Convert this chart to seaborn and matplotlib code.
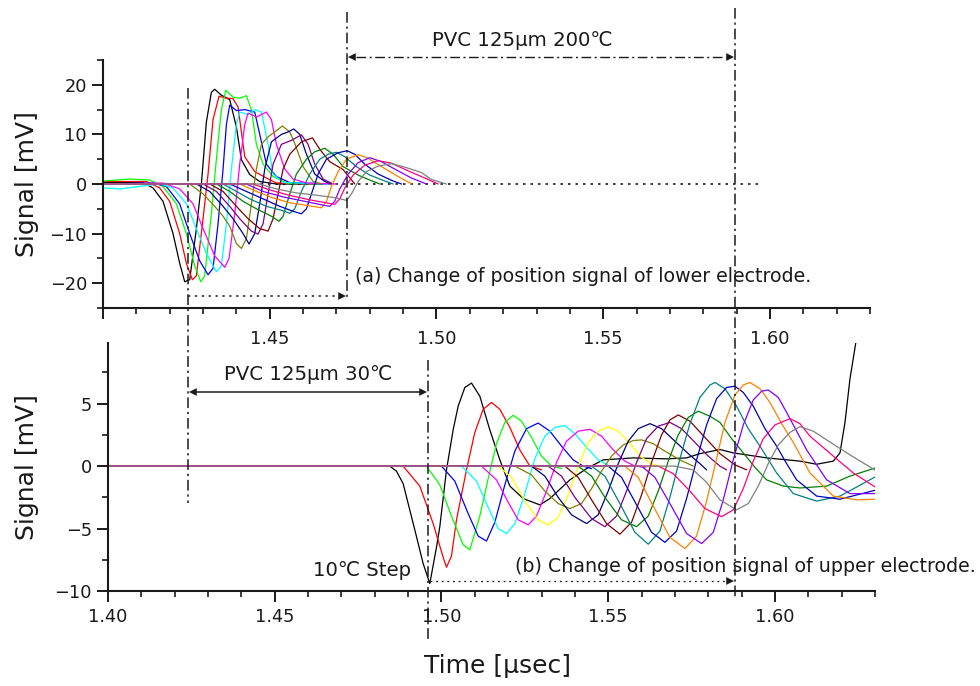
import numpy as np
import pandas as pd
import matplotlib
matplotlib.use("Agg")
import matplotlib.pyplot as plt
import seaborn as sns
from matplotlib.lines import Line2D
from matplotlib.patches import FancyArrowPatch
from matplotlib.ticker import MultipleLocator

# --- Data: (time [usec], signal [mV]) ---
# (a) lower electrode, PVC 125um 200C
top_black = [(1.400, 0.3), (1.412, 0.3), (1.415, -0.8), (1.418, -3.5), (1.421, -10), (1.423, -16), (1.4245, -19.7),
             (1.426, -19.3), (1.428, -9), (1.4295, 0), (1.431, 12.5), (1.4325, 18.5), (1.4335, 19.1), (1.4355, 17.9),
             (1.438, 17.0), (1.440, 11.5), (1.4415, 4.9), (1.444, 1.9), (1.447, 0.5), (1.452, 0), (1.465, 0)]
top_red = [(1.400, 0.5), (1.413, 0.5), (1.417, -0.8), (1.420, -3.5), (1.423, -10), (1.425, -16), (1.4268, -19.3),
           (1.428, -18.5), (1.430, -7), (1.4315, 2), (1.433, 13), (1.4348, 17.7), (1.437, 17.3), (1.439, 17.2),
           (1.4405, 15.5), (1.4425, 5.5), (1.4455, 2.5), (1.449, 1.2), (1.452, 0.2), (1.465, 0)]
top_green = [(1.400, 0.6), (1.408, 1.0), (1.414, 0.8), (1.418, -0.5), (1.422, -4), (1.425, -10), (1.4275, -16.5),
             (1.4293, -19.7), (1.4305, -18.5), (1.4325, -6), (1.434, 5), (1.4355, 15), (1.4368, 18.9), (1.439, 17.5),
             (1.441, 17.3), (1.443, 17.8), (1.4445, 15), (1.446, 8), (1.448, 4), (1.451, 1.5), (1.455, 0.2), (1.465, 0)]
top_blue = [(1.400, 0), (1.415, 0.2), (1.419, -0.5), (1.423, -4), (1.426, -10), (1.429, -15.5), (1.4315, -18.3),
            (1.433, -17), (1.4345, -8), (1.436, 3), (1.437, 12), (1.438, 15.9), (1.440, 14.8), (1.4425, 15),
            (1.4455, 14.5), (1.447, 10), (1.449, 4), (1.452, 1.5), (1.456, 0.3), (1.467, 0)]
top_cyan = [(1.400, -0.8), (1.405, -1.0), (1.412, -0.4), (1.417, 0), (1.421, -0.8), (1.425, -4), (1.428, -9),
            (1.431, -14), (1.434, -17.7), (1.4355, -16.5), (1.437, -8), (1.4385, 3), (1.440, 12), (1.441, 14.5),
            (1.4435, 14), (1.4455, 15), (1.4475, 14.5), (1.4495, 8), (1.451, 2), (1.454, 0.3), (1.468, 0)]
top_magenta = [(1.400, 0), (1.418, 0.2), (1.423, -1), (1.427, -4), (1.430, -9), (1.4335, -14.5), (1.4365, -16.8),
               (1.4378, -15), (1.4395, -6), (1.441, 4), (1.4425, 12), (1.4435, 14.3), (1.446, 13.5), (1.449, 14.5),
               (1.4505, 13), (1.452, 8), (1.4545, 3), (1.457, 1), (1.461, 0.2), (1.470, 0)]
top_olive = [(1.400, 0), (1.426, 0), (1.430, -2), (1.4335, -4.5), (1.436, -6.5), (1.438, -8.5), (1.440, -12),
             (1.4415, -13), (1.443, -11), (1.4445, -4), (1.446, 3), (1.4475, 8), (1.4495, 9.5), (1.4515, 10.5),
             (1.4538, 11.7), (1.456, 10.5), (1.4575, 8.2), (1.460, 3.5), (1.463, 0.5), (1.4655, 0)]
top_navy = [(1.400, 0), (1.428, 0), (1.432, -1.5), (1.436, -4.5), (1.439, -7), (1.442, -10), (1.4438, -12.1),
            (1.4455, -10), (1.447, -4), (1.4485, 3), (1.4505, 8.5), (1.4535, 10), (1.4555, 10.5), (1.4572, 11.1),
            (1.459, 10), (1.461, 6), (1.4635, 2), (1.4665, 0.5), (1.4685, 0)]
top_purple = [(1.400, 0), (1.430, 0), (1.434, -1.5), (1.438, -4.5), (1.441, -7), (1.4445, -9.5), (1.4465, -10.1),
              (1.448, -8), (1.4495, -2), (1.451, 4), (1.4535, 8), (1.4565, 8.8), (1.4595, 9.9), (1.4615, 8),
              (1.4635, 4), (1.466, 1), (1.469, 0)]
top_wine = [(1.400, 0), (1.432, 0), (1.436, -1.5), (1.440, -4.5), (1.4435, -7), (1.447, -9), (1.4495, -9.5),
            (1.451, -7), (1.4525, -2), (1.454, 3), (1.456, 6), (1.4595, 8.5), (1.4628, 9.3), (1.465, 7),
            (1.468, 4.5), (1.472, 2.9), (1.4755, 0)]
top_dkgreen = [(1.400, 0), (1.434, 0), (1.438, -1.5), (1.442, -3.5), (1.446, -5), (1.4505, -6.5), (1.4528, -7.5),
               (1.454, -6.5), (1.456, -2), (1.458, 2), (1.461, 5), (1.4635, 6.5), (1.4665, 7.2), (1.469, 6),
               (1.472, 3.5), (1.4765, 1.8), (1.480, 0.8), (1.483, 0)]
top_teal = [(1.400, 0), (1.436, 0), (1.440, -1.5), (1.444, -3), (1.449, -4.5), (1.4535, -5.3), (1.456, -5.9),
            (1.4575, -5), (1.4595, -1.5), (1.462, 2), (1.465, 5), (1.4675, 6), (1.470, 6.4), (1.4725, 5.5),
            (1.476, 3.5), (1.480, 1.8), (1.4845, 0.6), (1.487, 0)]
top_royal = [(1.400, 0), (1.438, 0), (1.443, -1.5), (1.448, -3), (1.453, -4.5), (1.457, -5.5), (1.4595, -6),
             (1.461, -5), (1.4625, -2), (1.4645, 2), (1.467, 5), (1.4705, 6.3), (1.4732, 6.7), (1.4755, 6),
             (1.4785, 4), (1.4825, 2), (1.487, 0.6), (1.4895, 0)]
top_orange = [(1.400, 0), (1.441, 0), (1.446, -1.5), (1.451, -2.8), (1.456, -3.8), (1.461, -4.3), (1.4655, -4.8),
              (1.467, -3.5), (1.4685, -0.5), (1.4705, 2.5), (1.473, 5), (1.4765, 5.9), (1.4795, 5.2),
              (1.4835, 3.5), (1.488, 1.7), (1.4925, 0)]
top_violet = [(1.400, 0), (1.443, 0), (1.448, -1.5), (1.454, -2.6), (1.4605, -3.5), (1.4655, -4.2), (1.468, -4.5),
              (1.4695, -3.5), (1.471, -1), (1.4735, 2), (1.4765, 4.3), (1.480, 5.3), (1.4835, 4.5),
              (1.4875, 3), (1.4925, 1.2), (1.497, 0)]
top_pink = [(1.400, 0), (1.445, 0), (1.450, -1.2), (1.456, -2.3), (1.462, -3.2), (1.467, -3.8), (1.4695, -4.1),
            (1.471, -3), (1.4725, -0.8), (1.475, 1.8), (1.4785, 3.8), (1.4825, 4.7), (1.4865, 4.2), (1.491, 2.8),
            (1.4965, 1.2), (1.5005, 0)]
top_gray = [(1.400, 0), (1.447, 0), (1.452, -1), (1.458, -1.8), (1.4645, -2.3), (1.470, -2.8), (1.473, -3.3),
            (1.4745, -2), (1.4765, 0.5), (1.479, 2.5), (1.4825, 3.6), (1.4865, 4.1), (1.491, 3.3), (1.4955, 2.3),
            (1.4985, 0.9), (1.503, 0)]

# (b) upper electrode, PVC 125um 30C
bot_black = [(1.400, 0), (1.4845, 0), (1.4865, -0.4), (1.4885, -1.4), (1.492, -5.1), (1.4945, -7.8), (1.4965, -9.4),
             (1.4985, -6.5), (1.4995, -4.85), (1.5015, -0.3), (1.5035, 2.9), (1.505, 4.8), (1.507, 6.3), (1.509, 6.65),
             (1.5115, 5.6), (1.5145, 2.9), (1.5175, 0.5), (1.5205, -1.6), (1.5245, -2.6), (1.5295, -3.1),
             (1.5325, -2.6), (1.5385, -1.1), (1.5435, -0.2), (1.5485, 0.5), (1.5575, 0.66), (1.5675, 0.58),
             (1.5735, 0.66), (1.5775, 1.0), (1.5835, 1.33), (1.5875, 1.06), (1.5975, 0.66), (1.6075, 0.4),
             (1.6125, 0.15), (1.6175, 0.4), (1.6195, 1.06), (1.621, 3.5), (1.6225, 7.0), (1.6248, 10.8)]
bot_red = [(1.400, 0), (1.4885, 0), (1.4935, -1.6), (1.4975, -4.6), (1.5005, -7.3), (1.5015, -8.1), (1.503, -7.2),
           (1.5045, -4.3), (1.5075, -0.3), (1.510, 2.7), (1.5125, 4.55), (1.515, 5.1), (1.5175, 4.55),
           (1.5205, 3.1), (1.5235, 1.3), (1.5265, 0), (1.530, -0.3)]
bot_green = [(1.400, 0), (1.4955, 0), (1.4995, -1.5), (1.503, -4), (1.5065, -6.3), (1.5085, -6.7), (1.5115, -4.0),
             (1.514, -1), (1.5165, 1.8), (1.519, 3.5), (1.5215, 4.07), (1.524, 3.6), (1.527, 2.3), (1.530, 0.8),
             (1.533, 0), (1.536, -0.2)]
bot_blue = [(1.400, 0), (1.500, 0), (1.504, -1.2), (1.508, -3.8), (1.511, -5.6), (1.5135, -6.0), (1.516, -4.5),
            (1.519, -1.5), (1.522, 1.2), (1.5255, 3.0), (1.529, 3.45), (1.5325, 2.8), (1.536, 1.6), (1.5395, 0.5),
            (1.5425, 0), (1.545, -0.2)]
bot_cyan = [(1.400, 0), (1.506, 0), (1.5105, -1.2), (1.514, -3.3), (1.517, -5.0), (1.5195, -5.4), (1.522, -4.6),
            (1.525, -2.2), (1.528, 0.6), (1.531, 2.4), (1.534, 3.1), (1.537, 3.25), (1.540, 2.6), (1.5435, 1.5),
            (1.547, 0.5), (1.5505, 0), (1.553, -0.1)]
bot_magenta = [(1.400, 0), (1.512, 0), (1.5165, -1.1), (1.520, -2.9), (1.523, -4.3), (1.526, -4.7), (1.5285, -4.0),
               (1.5315, -2.0), (1.5345, 0.3), (1.5375, 2.0), (1.541, 2.8), (1.5445, 2.95), (1.548, 2.4),
               (1.5515, 1.3), (1.555, 0.4), (1.558, 0), (1.561, -0.1)]
bot_yellow = [(1.400, 0), (1.517, 0), (1.521, -0.9), (1.525, -2.8), (1.529, -4.3), (1.532, -4.7), (1.535, -4.1),
              (1.538, -2.3), (1.541, 0), (1.544, 1.9), (1.547, 2.8), (1.550, 3.15), (1.553, 2.8), (1.5565, 1.8),
              (1.560, 0.7), (1.5635, 0.1), (1.566, 0)]
bot_olive = [(1.400, 0), (1.522, 0), (1.527, -0.7), (1.531, -2.0), (1.535, -3.0), (1.5385, -3.4), (1.542, -3.0),
             (1.545, -1.8), (1.548, -0.4), (1.551, 0.8), (1.5545, 1.7), (1.5575, 2.05), (1.560, 2.1), (1.5635, 1.8),
             (1.567, 1.2), (1.5715, 0.5), (1.5755, 0)]
bot_navy = [(1.400, 0), (1.527, 0), (1.531, -0.8), (1.535, -2.5), (1.539, -3.9), (1.5435, -4.6), (1.547, -3.9),
            (1.550, -2.0), (1.553, 0.2), (1.556, 2.0), (1.559, 3.0), (1.5625, 3.4), (1.566, 3.0), (1.570, 2.0),
            (1.574, 1.0), (1.5775, 0.2), (1.5795, -0.3)]
bot_purple = [(1.400, 0), (1.532, 0), (1.536, -0.8), (1.540, -2.5), (1.545, -4.2), (1.549, -4.85), (1.5525, -4.0),
              (1.5555, -2.0), (1.5585, 0.3), (1.5615, 2.2), (1.565, 3.2), (1.5685, 3.5), (1.572, 3.0), (1.576, 1.9),
              (1.580, 0.8), (1.5835, 0), (1.5855, -0.3)]
bot_wine = [(1.400, 0), (1.537, 0), (1.541, -0.9), (1.545, -2.7), (1.5495, -4.6), (1.5535, -5.45), (1.557, -4.5),
            (1.560, -2.3), (1.563, 0.3), (1.566, 2.5), (1.5685, 3.7), (1.571, 4.1), (1.5745, 3.6), (1.579, 2.3),
            (1.5835, 1.0), (1.588, 0.1), (1.5915, -0.3)]
bot_dkgreen = [(1.400, 0), (1.541, 0), (1.545, -0.8), (1.549, -2.5), (1.554, -4.3), (1.5585, -4.85), (1.562, -4.0),
               (1.565, -2.0), (1.568, 0.4), (1.571, 2.5), (1.574, 3.9), (1.577, 4.4), (1.5805, 4.0), (1.5835, 3.5),
               (1.587, 2.2), (1.5905, 1.06), (1.594, -0.1), (1.5975, -1.1), (1.6025, -1.6), (1.6075, -1.75),
               (1.6155, -1.6), (1.6225, -0.8), (1.630, -0.15)]
bot_teal = [(1.400, 0), (1.545, 0), (1.549, -0.8), (1.5535, -3.0), (1.558, -5.3), (1.562, -6.25), (1.5655, -5.2),
            (1.5685, -2.5), (1.5715, 0.6), (1.5745, 3.4), (1.5775, 5.5), (1.5805, 6.5), (1.582, 6.7), (1.585, 6.2),
            (1.5885, 4.8), (1.592, 3.0), (1.5955, 1.6), (1.6005, -0.55), (1.6055, -2.2), (1.6125, -2.8),
            (1.6195, -2.4), (1.6305, -0.8)]
bot_royal = [(1.400, 0), (1.550, 0), (1.554, -0.9), (1.5585, -3.1), (1.563, -5.3), (1.567, -6.1), (1.5705, -5.2),
             (1.5735, -2.6), (1.5765, 0.5), (1.5795, 3.3), (1.5825, 5.4), (1.5855, 6.3), (1.588, 6.4), (1.5905, 5.9),
             (1.5935, 4.8), (1.597, 3.0), (1.6005, 1.6), (1.6035, 0.2), (1.6065, -1.1), (1.6125, -2.4),
             (1.6195, -2.65), (1.6305, -1.9)]
bot_orange = [(1.400, 0), (1.555, 0), (1.559, -0.9), (1.5635, -3.2), (1.5685, -5.7), (1.573, -6.6), (1.5765, -5.6),
              (1.5795, -2.8), (1.5825, 0.6), (1.585, 3.5), (1.588, 5.7), (1.5905, 6.5), (1.5925, 6.7), (1.5955, 6.2),
              (1.5985, 5.1), (1.602, 3.4), (1.6055, 1.9), (1.6105, -0.55), (1.6175, -2.4), (1.6245, -2.7),
              (1.6305, -2.65)]
bot_violet = [(1.400, 0), (1.560, 0), (1.564, -0.9), (1.5685, -3.0), (1.5735, -5.4), (1.578, -6.2), (1.5815, -5.3),
              (1.5845, -2.7), (1.5875, 0.5), (1.5905, 3.3), (1.5935, 5.3), (1.596, 6.0), (1.598, 6.1), (1.601, 5.5),
              (1.6035, 4.3), (1.6065, 2.8), (1.6095, 1.3), (1.6155, -1.1), (1.6225, -2.2), (1.6305, -2.2)]
bot_pink = [(1.400, 0), (1.565, 0), (1.5695, -0.6), (1.5745, -2.0), (1.579, -3.4), (1.584, -4.05), (1.5875, -3.5),
            (1.5905, -1.8), (1.5935, 0.4), (1.5965, 2.2), (1.600, 3.3), (1.6045, 3.8), (1.6075, 3.4),
            (1.6105, 2.4), (1.6175, 0.8), (1.6235, -0.55), (1.6305, -1.75)]
bot_gray = [(1.400, 0), (1.570, 0), (1.5755, -0.3), (1.5795, -1.3), (1.5835, -2.7), (1.5885, -3.5), (1.592, -3.0),
            (1.595, -1.6), (1.598, 0.2), (1.601, 1.7), (1.6045, 2.7), (1.6075, 3.16), (1.6115, 2.8),
            (1.6155, 2.1), (1.6225, 0.9), (1.6305, -0.4)]

# Origin-like colour cycle
COLORS = {
    "black": "#000000", "red": "#ff0000", "green": "#00ff00", "blue": "#0000ff", "cyan": "#00ffff",
    "magenta": "#ff00ff", "yellow": "#ffff00", "olive": "#808000", "navy": "#000080", "purple": "#800080",
    "wine": "#800000", "dkgreen": "#008000", "teal": "#008080", "royal": "#0000c0", "orange": "#ff8000",
    "violet": "#8000ff", "pink": "#ff0080", "gray": "#808080",
}

TOP_CURVES = [("black", top_black), ("red", top_red), ("green", top_green), ("blue", top_blue),
              ("cyan", top_cyan), ("magenta", top_magenta), ("olive", top_olive), ("navy", top_navy),
              ("purple", top_purple), ("wine", top_wine), ("dkgreen", top_dkgreen), ("teal", top_teal),
              ("royal", top_royal), ("orange", top_orange), ("violet", top_violet), ("pink", top_pink),
              ("gray", top_gray)]
BOT_CURVES = [("black", bot_black), ("red", bot_red), ("green", bot_green), ("blue", bot_blue),
              ("cyan", bot_cyan), ("magenta", bot_magenta), ("yellow", bot_yellow), ("olive", bot_olive),
              ("navy", bot_navy), ("purple", bot_purple), ("wine", bot_wine), ("dkgreen", bot_dkgreen),
              ("teal", bot_teal), ("royal", bot_royal), ("orange", bot_orange), ("violet", bot_violet),
              ("pink", bot_pink), ("gray", bot_gray)]

X_MAJOR = [1.40, 1.45, 1.50, 1.55, 1.60]
TOP_XLABELS = ["", "1.45", "1.50", "1.55", "1.60"]
BOT_XLABELS = ["1.40", "1.45", "1.50", "1.55", "1.60"]
ZERO_DOT_END = 1.597

# --- Layout (pixels of a 980x686 canvas) ---
W, H = 980, 686
DASHDOT = (0, (7, 2.5, 1.5, 2.5))
DOTTED = (0, (1.5, 3))
TICK_FS = 12.8
LABEL_FS = 18
NOTE_FS = 13.7
PVC_FS = 14.2


def to_df(curves):
    rows = []
    for name, pts in curves:
        for x, y in pts:
            rows.append({"time": x, "signal": y, "curve": name})
    return pd.DataFrame(rows)


def fx(px):
    return px / W


def fy(py):
    return 1 - py / H


def fig_line(fig, x0, y0, x1, y1, ls, lw=1.1):
    fig.add_artist(Line2D([fx(x0), fx(x1)], [fy(y0), fy(y1)], transform=fig.transFigure,
                          color="k", lw=lw, ls=ls))


def fig_head(fig, x_tip, y, direction):
    # small filled arrow head pointing left (-1) or right (+1)
    tail = (fx(x_tip - direction * 12), fy(y))
    fig.add_artist(FancyArrowPatch(tail, (fx(x_tip), fy(y)), transform=fig.transFigure,
                                   arrowstyle="-|>", mutation_scale=14, lw=0, color="k",
                                   shrinkA=0, shrinkB=0))


def style_axis(ax, ymajor, yminor, xlabels, xpad):
    for side in ["top", "right"]:
        ax.spines[side].set_visible(False)
    for side in ["left", "bottom"]:
        ax.spines[side].set_linewidth(1.5)
        ax.spines[side].set_color("k")
    ax.set_xticks(X_MAJOR)
    ax.set_xticklabels(xlabels)
    ax.xaxis.set_minor_locator(MultipleLocator(0.01))
    ax.yaxis.set_major_locator(MultipleLocator(ymajor))
    ax.yaxis.set_minor_locator(MultipleLocator(yminor))
    ax.tick_params(which="major", direction="out", length=8, width=1.4, labelsize=TICK_FS,
                   color="k", labelcolor="k")
    ax.tick_params(which="minor", direction="out", length=4.5, width=1.2, color="k")
    ax.tick_params(axis="x", which="major", pad=xpad)
    ax.set_xlabel("")
    ax.grid(False)


sns.set_theme(style="ticks")
plt.rcParams["font.family"] = ["DejaVu Sans", "Noto Sans CJK JP"]
plt.rcParams["axes.unicode_minus"] = True
plt.rcParams["text.color"] = "k"
plt.rcParams["axes.labelcolor"] = "k"

fig = plt.figure(figsize=(W / 100, H / 100), dpi=100)
ax_top = fig.add_axes([fx(103), fy(308), (870 - 103) / W, (308 - 60) / H])
ax_bot = fig.add_axes([fx(108), fy(591), (875 - 108) / W, (591 - 342.5) / H])
for a in (ax_top, ax_bot):
    a.patch.set_alpha(0)

top_df = to_df(TOP_CURVES)
bot_df = to_df(BOT_CURVES)
top_order = [n for n, _ in TOP_CURVES]
bot_order = [n for n, _ in BOT_CURVES]

sns.lineplot(data=top_df, x="time", y="signal", hue="curve", hue_order=top_order, palette=COLORS,
             estimator=None, sort=False, legend=False, lw=0.9, ax=ax_top)
ax_top.plot([X_MAJOR[0], ZERO_DOT_END], [0, 0], color="k", lw=1.2, ls=DOTTED, zorder=1)
ax_top.set_xlim(1.40, 1.63)
ax_top.set_ylim(-25, 25)
style_axis(ax_top, 10, 5, TOP_XLABELS, 8)
ax_top.set_ylabel("Signal [mV]", fontsize=LABEL_FS)
ax_top.yaxis.set_label_coords(-0.083, 0.5)

sns.lineplot(data=bot_df, x="time", y="signal", hue="curve", hue_order=bot_order, palette=COLORS,
             estimator=None, sort=False, legend=False, lw=0.9, ax=ax_bot)
ax_bot.set_xlim(1.40, 1.63)
ax_bot.set_ylim(-10, 9.9)
style_axis(ax_bot, 5, 2.5, BOT_XLABELS, 4)
ax_bot.set_ylabel("Signal [mV]", fontsize=LABEL_FS)
ax_bot.yaxis.set_label_coords(-0.09, 0.5)

fig.text(fx(497), fy(666), "Time [μsec]", fontsize=LABEL_FS, ha="center", va="center")

# vertical dash-dot markers
fig_line(fig, 188, 88, 188, 503, DASHDOT)
fig_line(fig, 347, 12, 347, 300, DASHDOT)
fig_line(fig, 428, 360, 428, 640, DASHDOT)
fig_line(fig, 735, 8, 735, 600, DASHDOT)

# (a) 200C span arrow
fig_line(fig, 356, 57, 726, 57, DASHDOT, lw=1.0)
fig_head(fig, 348, 57, -1)
fig_head(fig, 734, 57, 1)
fig.text(fx(522), fy(41), "PVC 125μm 200℃", fontsize=PVC_FS, ha="center", va="center")

# (a) delay arrow
fig_line(fig, 188, 296, 338, 296, DOTTED, lw=1.1)
fig_head(fig, 346, 296, 1)
fig.text(fx(355), fy(277), "(a) Change of position signal of lower electrode.", fontsize=NOTE_FS,
         ha="left", va="center")

# (b) 30C span arrow
fig_line(fig, 196, 392, 420, 392, "-", lw=1.1)
fig_head(fig, 189, 392, -1)
fig_head(fig, 427, 392, 1)
fig.text(fx(308), fy(375), "PVC 125μm 30℃", fontsize=PVC_FS, ha="center", va="center")
fig.text(fx(362), fy(571), "10℃ Step", fontsize=PVC_FS, ha="center", va="center")

# (b) delay arrow
fig_line(fig, 430, 581, 726, 581, DOTTED, lw=0.9)
fig_head(fig, 734, 581, 1)
fig.text(fx(515), fy(566), "(b) Change of position signal of upper electrode.", fontsize=NOTE_FS,
         ha="left", va="center")

fig.savefig("out.png", dpi=100)
